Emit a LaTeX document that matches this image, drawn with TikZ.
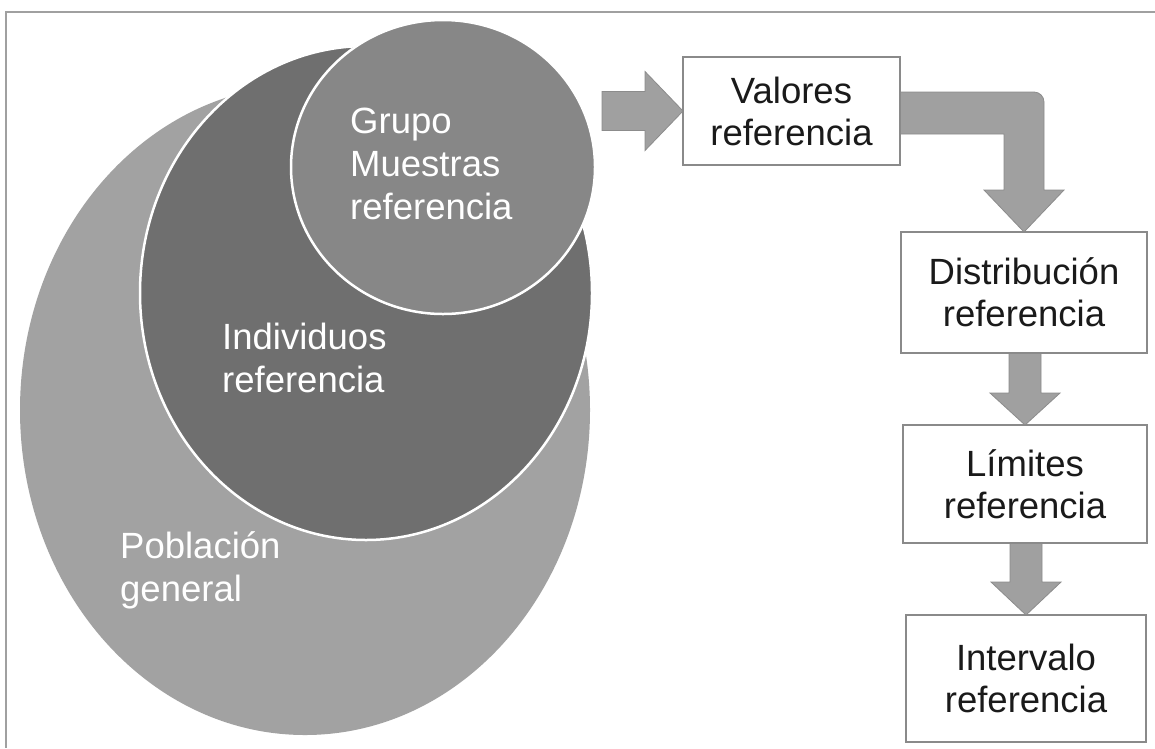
\documentclass[tikz,border=0pt]{standalone}
\usepackage{fontspec}
\setmainfont{Liberation Sans}
\usetikzlibrary{calc,backgrounds}
\definecolor{popc}{HTML}{A2A2A2}
\definecolor{indc}{HTML}{6F6F6F}
\definecolor{grpc}{HTML}{878787}
\definecolor{arrc}{HTML}{A0A0A0}
\definecolor{arrd}{HTML}{8C8C8C}
\definecolor{boxd}{HTML}{8A8A8A}
\definecolor{framec}{HTML}{A0A0A0}
\definecolor{txtc}{HTML}{1A1A1A}
\begin{document}
\begin{tikzpicture}[x=1pt,y=-1pt,
  lbl/.style={text=white, font=\fontsize{36.5}{43}\selectfont, align=left, inner sep=0pt, anchor=base west},
  stepbox/.style={draw=boxd, line width=1.2pt, fill=white, font=\fontsize{36.5}{42}\selectfont, align=center, inner sep=0pt, outer sep=0pt, text=txtc},
  blockarrow/.style={fill=arrc, draw=arrd, line width=0.8pt, line join=miter}]
\useasboundingbox (0,0) rectangle (1155,748);
% circles
\fill[popc] (305,410) ellipse [x radius=285, y radius=325];
\filldraw[fill=indc, draw=white, line width=2.5pt] (366,293) ellipse [x radius=226, y radius=247];
\filldraw[fill=grpc, draw=white, line width=2.5pt] (443,167) ellipse [x radius=152, y radius=147];
% circle labels (anchored at the baseline of the last line)
\node[lbl] (grp) at (350,219) {Grupo\\Muestras\\referencia};
\node[lbl] (ind) at (222,392) {Individuos\\referencia};
\node[lbl] (pob) at (120,601) {Población\\general};
% boxes
\node[stepbox, minimum width=217pt, minimum height=108pt] (val) at (791.5,111) {Valores\\referencia};
\node[stepbox, minimum width=246pt, minimum height=121pt] (dist) at (1024,292.5) {Distribución\\referencia};
\node[stepbox, minimum width=244pt, minimum height=118pt] (lim) at (1025,484) {Límites\\referencia};
\node[stepbox, minimum width=240pt, minimum height=127pt] (int) at (1026,678.5) {Intervalo\\referencia};
\coordinate (a0) at (602,111);
\begin{scope}[on background layer]
\fill[white] (0,0) rectangle (1155,748);
% left arrow
\filldraw[blockarrow] ($(a0)+(0,-19.5)$) -- ($(val.west)+(-38,-19.5)$) -- ($(val.west)+(-38,-39.5)$) -- (val.west)
  -- ($(val.west)+(-38,39.5)$) -- ($(val.west)+(-38,19.5)$) -- ($(a0)+(0,19.5)$) -- cycle;
% bent arrow
\filldraw[blockarrow] let \p1=(val.east), \p2=(dist.north) in
  (\x1,\y1+19pt) -- (\x2+10pt,\y1+19pt) arc[start angle=90,end angle=0,radius=10pt]
  -- (\x2+20pt,\y2+42pt) -- (\x2+40pt,\y2+42pt) -- (\p2) -- (\x2-40pt,\y2+42pt)
  -- (\x2-20pt,\y2+42pt) -- (\x2-20pt,\y1-23pt) -- (\x1,\y1-23pt) -- cycle;
% straight arrows
\filldraw[blockarrow] let \p1=(dist.south), \p2=(lim.north) in
  (\x2-16pt,\y1) -- (\x2-16pt,\y2+32pt) -- (\x2-35pt,\y2+32pt) -- (\p2) -- (\x2+35pt,\y2+32pt)
  -- (\x2+16pt,\y2+32pt) -- (\x2+16pt,\y1) -- cycle;
\filldraw[blockarrow] let \p1=(lim.south), \p2=(int.north) in
  (\x2-16pt,\y1) -- (\x2-16pt,\y2+33pt) -- (\x2-35pt,\y2+33pt) -- (\p2) -- (\x2+35pt,\y2+33pt)
  -- (\x2+16pt,\y2+33pt) -- (\x2+16pt,\y1) -- cycle;
\end{scope}
% frame
\draw[framec, line width=1.5pt] (1155,12) -- (6,12) -- (6,748);
\end{tikzpicture}
\end{document}
